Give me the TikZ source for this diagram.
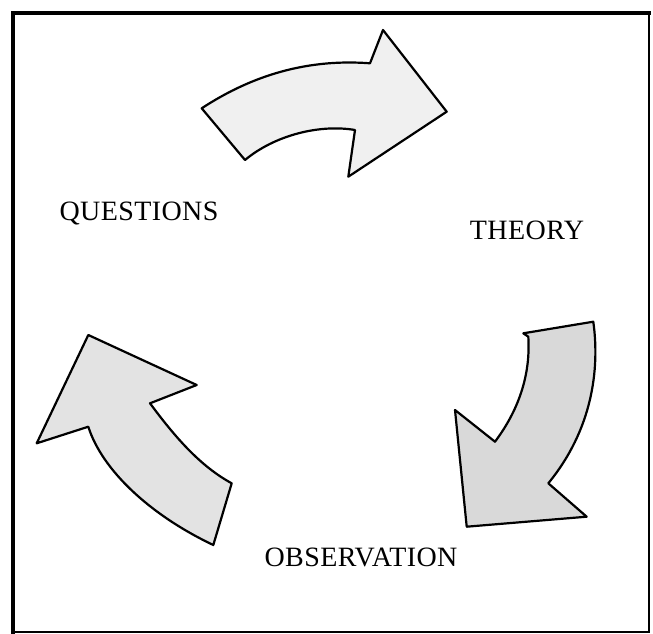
\documentclass[tikz,border=0pt]{standalone}
\usepackage{fontspec}
\setmainfont{Liberation Serif}
\begin{document}
\begin{tikzpicture}[x=1pt,y=-1pt,
  bigarrow/.style={draw=black,line width=2.2pt,line join=round},
  lbl/.style={font=\fontsize{28}{32}\selectfont\addfontfeatures{LetterSpace=1.5},inner sep=0pt,anchor=base}]
\useasboundingbox (0,0) rectangle (653,634);
\fill[white] (0,0) rectangle (653,634);
\coordinate (tl) at (13,13);
\coordinate (tr) at (649,13);
\coordinate (br) at (649,632);
\coordinate (bl) at (13,632);
\draw[line width=2pt] (tr) -- (br) -- (bl);
\draw[line width=4pt,line cap=rect] (bl) -- (tl) -- (tr);
% top arrow
\draw[bigarrow,fill=gray!12] (201.7,108.3) .. controls (245,80) and (300,58) .. (370,63.3)
  -- (383,30) -- (446.7,111.7) -- (348.3,176.7) -- (355,130)
  .. controls (320,124) and (275,135) .. (245,160) -- cycle;
% right arrow
\draw[bigarrow,fill=gray!30] (523.3,333.3) -- (593.3,321.7)
  .. controls (600,370) and (592,430) .. (548.3,483.3)
  -- (586.7,516.7) -- (466.7,526.7) -- (455,410) -- (495,441.7)
  .. controls (515,415) and (531,380) .. (528.3,336.7) -- cycle;
% left arrow
\draw[bigarrow,fill=gray!22] (88.3,335) -- (196.7,385) -- (150,403.3)
  .. controls (175,437) and (200,466) .. (231.7,483.3) -- (213.3,545)
  .. controls (150,515) and (102,470) .. (88.3,426.7) -- (36.7,443.3) -- cycle;
\node[lbl] (questions) at (139,220) {QUESTIONS};
\node[lbl] (theory) at (527,239) {THEORY};
\node[lbl] (observation) at (361,566) {OBSERVATION};
\end{tikzpicture}
\end{document}
